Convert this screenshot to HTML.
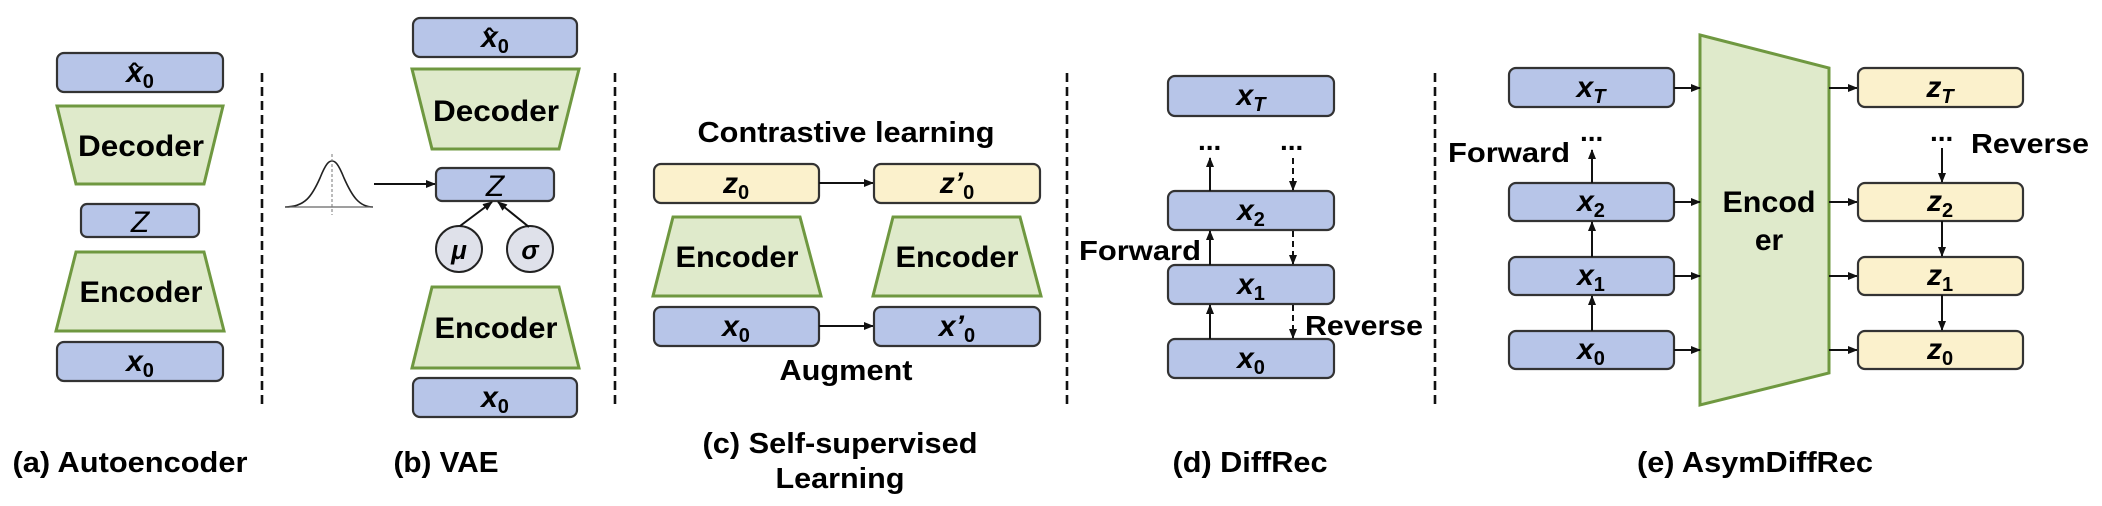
<!DOCTYPE html>
<html><head><meta charset="utf-8"><style>
html,body{margin:0;padding:0;background:#fff}
svg{display:block}
text{font-family:"Liberation Sans",Arial,sans-serif}
.b{fill:#b7c5e8;stroke:#333;stroke-width:2.2}
.y{fill:#fbf1cc;stroke:#333;stroke-width:2.2}
.g{fill:#dfeacb;stroke:#6f9840;stroke-width:3}
.v{font-size:30px;font-weight:bold;font-style:italic;text-anchor:middle}
.s{font-size:20px;font-weight:bold;font-style:normal}
.si{font-size:20px;font-weight:bold;font-style:italic}
.L{font-size:30px;font-weight:bold;text-anchor:middle}
.T{font-size:28px;font-weight:bold}
.cap{font-size:29px;font-weight:bold;text-anchor:middle}
.h{font-size:26px;font-weight:bold;text-anchor:middle}
.d{stroke:#111;stroke-width:2.6;stroke-dasharray:9 5;fill:none}
.a{stroke:#111;stroke-width:2;fill:none;marker-end:url(#ah)}
.ad{stroke:#111;stroke-width:2;fill:none;stroke-dasharray:6 4;marker-end:url(#ah)}
</style></head><body>
<svg width="2102" height="506" viewBox="0 0 2102 506" xmlns="http://www.w3.org/2000/svg">
<defs><marker id="ah" markerWidth="10" markerHeight="8" refX="9" refY="4" orient="auto" markerUnits="userSpaceOnUse"><path d="M0,0 L10,4 L0,8 z" fill="#111"/></marker></defs>

<!-- (a) -->
<rect class="b" x="57" y="53" width="166" height="39" rx="7"/>
<text class="v" x="140" y="82">x<tspan class="s" dy="6">0</tspan></text>
<text class="h" x="134" y="82">ˆ</text>
<polygon class="g" points="57,106 223,106 204,184 76,184"/>
<text class="L" x="141" y="156" textLength="126" lengthAdjust="spacingAndGlyphs">Decoder</text>
<rect class="b" x="81" y="204" width="118" height="33" rx="6"/>
<text x="140" y="232" style="font-size:30px;font-style:italic" text-anchor="middle">Z</text>
<polygon class="g" points="76,252 204,252 224,331 56,331"/>
<text class="L" x="141" y="302" textLength="123" lengthAdjust="spacingAndGlyphs">Encoder</text>
<rect class="b" x="57" y="342" width="166" height="39" rx="7"/>
<text class="v" x="140" y="371">x<tspan class="s" dy="6">0</tspan></text>
<line class="d" x1="262" y1="73" x2="262" y2="404"/>
<text class="cap" x="130" y="472" textLength="235" lengthAdjust="spacingAndGlyphs">(a) Autoencoder</text>

<!-- (b) -->
<rect class="b" x="413" y="18" width="164" height="39" rx="7"/>
<text class="v" x="495" y="47">x<tspan class="s" dy="6">0</tspan></text>
<text class="h" x="489" y="47">ˆ</text>
<polygon class="g" points="412,69 579,69 559,149 432,149"/>
<text class="L" x="496" y="121" textLength="126" lengthAdjust="spacingAndGlyphs">Decoder</text>
<path d="M285,207 C305,207 312,196 320,178 C326,163 329,161 332,161 C335,161 338,163 344,178 C352,196 359,207 373,207" fill="none" stroke="#222" stroke-width="1.6"/>
<line x1="285" y1="207" x2="373" y2="207" stroke="#666" stroke-width="1.2"/>
<line x1="332" y1="154" x2="332" y2="215" stroke="#777" stroke-width="1" stroke-dasharray="3 2"/>
<line class="a" x1="374" y1="184" x2="435" y2="184"/>
<rect class="b" x="436" y="168" width="118" height="33" rx="6"/>
<text x="495" y="196" style="font-size:30px;font-style:italic" text-anchor="middle">Z</text>
<circle cx="459" cy="249" r="23" fill="#dfe1ea" stroke="#222" stroke-width="2"/>
<circle cx="530" cy="249" r="23" fill="#dfe1ea" stroke="#222" stroke-width="2"/>
<text x="459" y="259" style="font-size:26px;font-weight:bold;font-style:italic" text-anchor="middle">μ</text>
<text x="530" y="259" style="font-size:26px;font-weight:bold;font-style:italic" text-anchor="middle">σ</text>
<line class="a" x1="460" y1="226" x2="492" y2="202"/>
<line class="a" x1="529" y1="227" x2="498" y2="202"/>
<polygon class="g" points="432,287 559,287 579,368 412,368"/>
<text class="L" x="496" y="338" textLength="123" lengthAdjust="spacingAndGlyphs">Encoder</text>
<rect class="b" x="413" y="378" width="164" height="39" rx="7"/>
<text class="v" x="495" y="407">x<tspan class="s" dy="6">0</tspan></text>
<text class="cap" x="446" y="472" textLength="105" lengthAdjust="spacingAndGlyphs">(b) VAE</text>
<line class="d" x1="615" y1="73" x2="615" y2="404"/>

<!-- (c) -->
<text class="L" x="846" y="142" style="font-size:29px" textLength="297" lengthAdjust="spacingAndGlyphs">Contrastive learning</text>
<rect class="y" x="654" y="164" width="165" height="39" rx="7"/>
<text class="v" x="736" y="193">z<tspan class="s" dy="6">0</tspan></text>
<line class="a" x1="819" y1="183" x2="873" y2="183"/>
<rect class="y" x="874" y="164" width="166" height="39" rx="7"/>
<text class="v" x="957" y="193">z’<tspan class="s" dy="6">0</tspan></text>
<polygon class="g" points="673,217 800,217 821,296 653,296"/>
<text class="L" x="737" y="267" textLength="123" lengthAdjust="spacingAndGlyphs">Encoder</text>
<polygon class="g" points="893,217 1020,217 1041,296 873,296"/>
<text class="L" x="957" y="267" textLength="123" lengthAdjust="spacingAndGlyphs">Encoder</text>
<rect class="b" x="654" y="307" width="165" height="39" rx="7"/>
<text class="v" x="736" y="336">x<tspan class="s" dy="6">0</tspan></text>
<line class="a" x1="819" y1="326" x2="873" y2="326"/>
<rect class="b" x="874" y="307" width="166" height="39" rx="7"/>
<text class="v" x="957" y="336">x’<tspan class="s" dy="6">0</tspan></text>
<text class="L" x="846" y="380" style="font-size:29px" textLength="133" lengthAdjust="spacingAndGlyphs">Augment</text>
<text class="cap" x="840" y="453" textLength="275" lengthAdjust="spacingAndGlyphs">(c) Self-supervised</text>
<text class="cap" x="840" y="488" textLength="129" lengthAdjust="spacingAndGlyphs">Learning</text>
<line class="d" x1="1067" y1="73" x2="1067" y2="404"/>

<!-- (d) -->
<rect class="b" x="1168" y="76" width="166" height="40" rx="7"/>
<text class="v" x="1251" y="105">x<tspan class="si" dy="6">T</tspan></text>
<text class="T" x="1198" y="150">...</text>
<text class="T" x="1280" y="150">...</text>
<rect class="b" x="1168" y="191" width="166" height="39" rx="7"/>
<text class="v" x="1251" y="220">x<tspan class="s" dy="6">2</tspan></text>
<rect class="b" x="1168" y="265" width="166" height="39" rx="7"/>
<text class="v" x="1251" y="294">x<tspan class="s" dy="6">1</tspan></text>
<rect class="b" x="1168" y="339" width="166" height="39" rx="7"/>
<text class="v" x="1251" y="368">x<tspan class="s" dy="6">0</tspan></text>
<line class="a" x1="1210" y1="191" x2="1210" y2="158"/>
<line class="a" x1="1210" y1="265" x2="1210" y2="231"/>
<line class="a" x1="1210" y1="339" x2="1210" y2="305"/>
<line class="ad" x1="1293" y1="158" x2="1293" y2="190"/>
<line class="ad" x1="1293" y1="231" x2="1293" y2="264"/>
<line class="ad" x1="1293" y1="305" x2="1293" y2="338"/>
<text class="T" x="1079" y="260" textLength="122" lengthAdjust="spacingAndGlyphs">Forward</text>
<text class="T" x="1305" y="335" textLength="118" lengthAdjust="spacingAndGlyphs">Reverse</text>
<text class="cap" x="1250" y="472" textLength="155" lengthAdjust="spacingAndGlyphs">(d) DiffRec</text>
<line class="d" x1="1435" y1="73" x2="1435" y2="404"/>

<!-- (e) -->
<polygon class="g" points="1700,35 1829,68 1829,373 1700,405"/>
<text class="L" x="1769" y="212" textLength="93" lengthAdjust="spacingAndGlyphs">Encod</text>
<text class="L" x="1769" y="250">er</text>
<rect class="b" x="1509" y="68" width="165" height="39" rx="7"/>
<text class="v" x="1591" y="97">x<tspan class="si" dy="6">T</tspan></text>
<rect class="b" x="1509" y="183" width="165" height="38" rx="7"/>
<text class="v" x="1591" y="211">x<tspan class="s" dy="6">2</tspan></text>
<rect class="b" x="1509" y="257" width="165" height="38" rx="7"/>
<text class="v" x="1591" y="285">x<tspan class="s" dy="6">1</tspan></text>
<rect class="b" x="1509" y="331" width="165" height="38" rx="7"/>
<text class="v" x="1591" y="359">x<tspan class="s" dy="6">0</tspan></text>
<text class="T" x="1580" y="141">...</text>
<text class="T" x="1448" y="162" textLength="122" lengthAdjust="spacingAndGlyphs">Forward</text>
<line class="a" x1="1592" y1="183" x2="1592" y2="150"/>
<line class="a" x1="1592" y1="257" x2="1592" y2="222"/>
<line class="a" x1="1592" y1="331" x2="1592" y2="296"/>
<line class="a" x1="1674" y1="88" x2="1700" y2="88"/>
<line class="a" x1="1674" y1="202" x2="1700" y2="202"/>
<line class="a" x1="1674" y1="276" x2="1700" y2="276"/>
<line class="a" x1="1674" y1="350" x2="1700" y2="350"/>
<line class="a" x1="1829" y1="88" x2="1857" y2="88"/>
<line class="a" x1="1829" y1="202" x2="1857" y2="202"/>
<line class="a" x1="1829" y1="276" x2="1857" y2="276"/>
<line class="a" x1="1829" y1="350" x2="1857" y2="350"/>
<rect class="y" x="1858" y="68" width="165" height="39" rx="7"/>
<text class="v" x="1940" y="97">z<tspan class="si" dy="6">T</tspan></text>
<rect class="y" x="1858" y="183" width="165" height="38" rx="7"/>
<text class="v" x="1940" y="211">z<tspan class="s" dy="6">2</tspan></text>
<rect class="y" x="1858" y="257" width="165" height="38" rx="7"/>
<text class="v" x="1940" y="285">z<tspan class="s" dy="6">1</tspan></text>
<rect class="y" x="1858" y="331" width="165" height="38" rx="7"/>
<text class="v" x="1940" y="359">z<tspan class="s" dy="6">0</tspan></text>
<text class="T" x="1930" y="141">...</text>
<text class="T" x="1971" y="153" textLength="118" lengthAdjust="spacingAndGlyphs">Reverse</text>
<line class="a" x1="1942" y1="148" x2="1942" y2="182"/>
<line class="a" x1="1942" y1="221" x2="1942" y2="256"/>
<line class="a" x1="1942" y1="295" x2="1942" y2="330"/>
<text class="cap" x="1755" y="472" textLength="236" lengthAdjust="spacingAndGlyphs">(e) AsymDiffRec</text>
</svg>
</body></html>
